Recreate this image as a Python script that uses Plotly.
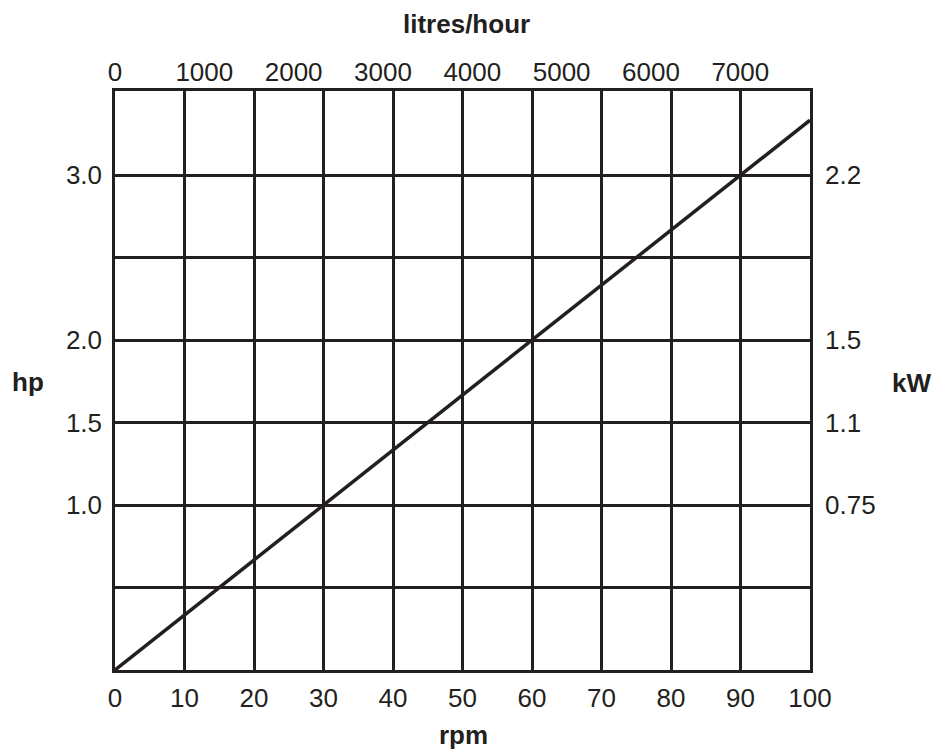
import plotly.graph_objects as go

# ---- data ----
rpm = [0, 100]
hp = [0, 3.333]

rpm_ticks = [0, 10, 20, 30, 40, 50, 60, 70, 80, 90, 100]
litres_ticks = [0, 1000, 2000, 3000, 4000, 5000, 6000, 7000]
litres_max = 7780

hp_ticks = [0.5, 1.0, 1.5, 2.0, 2.5, 3.0]
hp_labels = ["", "1.0", "1.5", "2.0", "", "3.0"]
hp_max = 3.51

kw_ticks = [1.0, 1.5, 2.0, 3.0]
kw_labels = ["0.75", "1.1", "1.5", "2.2"]

INK = "#231f20"
FONT = "Liberation Sans, Arial, sans-serif"

fig = go.Figure()
fig.add_trace(go.Scatter(x=rpm, y=hp, mode="lines",
                         line=dict(color=INK, width=3.5),
                         showlegend=False, hoverinfo="skip"))
# invisible helper traces so the secondary axes render
fig.add_trace(go.Scatter(x=[0, litres_max], y=[0, 0], xaxis="x2", yaxis="y",
                         mode="lines", line=dict(width=0), opacity=0,
                         showlegend=False, hoverinfo="skip"))
fig.add_trace(go.Scatter(x=[0, 0], y=[0, hp_max], xaxis="x", yaxis="y2",
                         mode="lines", line=dict(width=0), opacity=0,
                         showlegend=False, hoverinfo="skip"))

tickfont = dict(family=FONT, size=26, color=INK)

fig.update_layout(
    width=936, height=751,
    margin=dict(l=115, r=126, t=91, b=81, pad=0),
    plot_bgcolor="white", paper_bgcolor="white",
    xaxis=dict(range=[0, 100], tickvals=rpm_ticks, ticks="",
               showgrid=True, gridcolor=INK, gridwidth=2.5,
               showline=True, linecolor=INK, linewidth=2.5, mirror=True,
               zeroline=False, tickfont=tickfont, ticklabelstandoff=3),
    xaxis2=dict(range=[0, litres_max], tickvals=litres_ticks, overlaying="x",
                side="top", ticks="", showgrid=False, zeroline=False,
                showline=False, tickfont=tickfont, ticklabelstandoff=4),
    yaxis=dict(range=[0, hp_max], tickvals=hp_ticks, ticktext=hp_labels,
               ticks="", showgrid=True, gridcolor=INK, gridwidth=2.5,
               showline=True, linecolor=INK, linewidth=2.5, mirror=True,
               zeroline=False, tickfont=tickfont, ticklabelstandoff=5),
    yaxis2=dict(range=[0, hp_max], tickvals=kw_ticks, ticktext=kw_labels,
                overlaying="y", side="right", ticks="", showgrid=False,
                zeroline=False, showline=False, tickfont=tickfont,
                ticklabelstandoff=14),
    annotations=[
        dict(text="<b>litres/hour</b>", xref="paper", yref="paper",
             x=0.506, y=1.1155, showarrow=False, xanchor="center", yanchor="middle",
             font=dict(family=FONT, size=26, color=INK)),
        dict(text="<b>rpm</b>", xref="paper", yref="paper",
             x=0.502, y=-0.112, showarrow=False, xanchor="center", yanchor="middle",
             font=dict(family=FONT, size=26, color=INK)),
        dict(text="<b>hp</b>", xref="paper", yref="paper",
             x=-0.125, y=0.498, showarrow=False, xanchor="center", yanchor="middle",
             font=dict(family=FONT, size=26, color=INK)),
        dict(text="<b>kW</b>", xref="paper", yref="paper",
             x=1.146, y=0.495, showarrow=False, xanchor="center", yanchor="middle",
             font=dict(family=FONT, size=26, color=INK)),
    ],
)

# remove the default 8px page margin so the 936x751 figure fills the window
fig.write_html(
    "out.html",
    config={"displayModeBar": False},
    post_script="document.body.style.margin='0px';"
                "document.documentElement.style.overflow='hidden';",
)
